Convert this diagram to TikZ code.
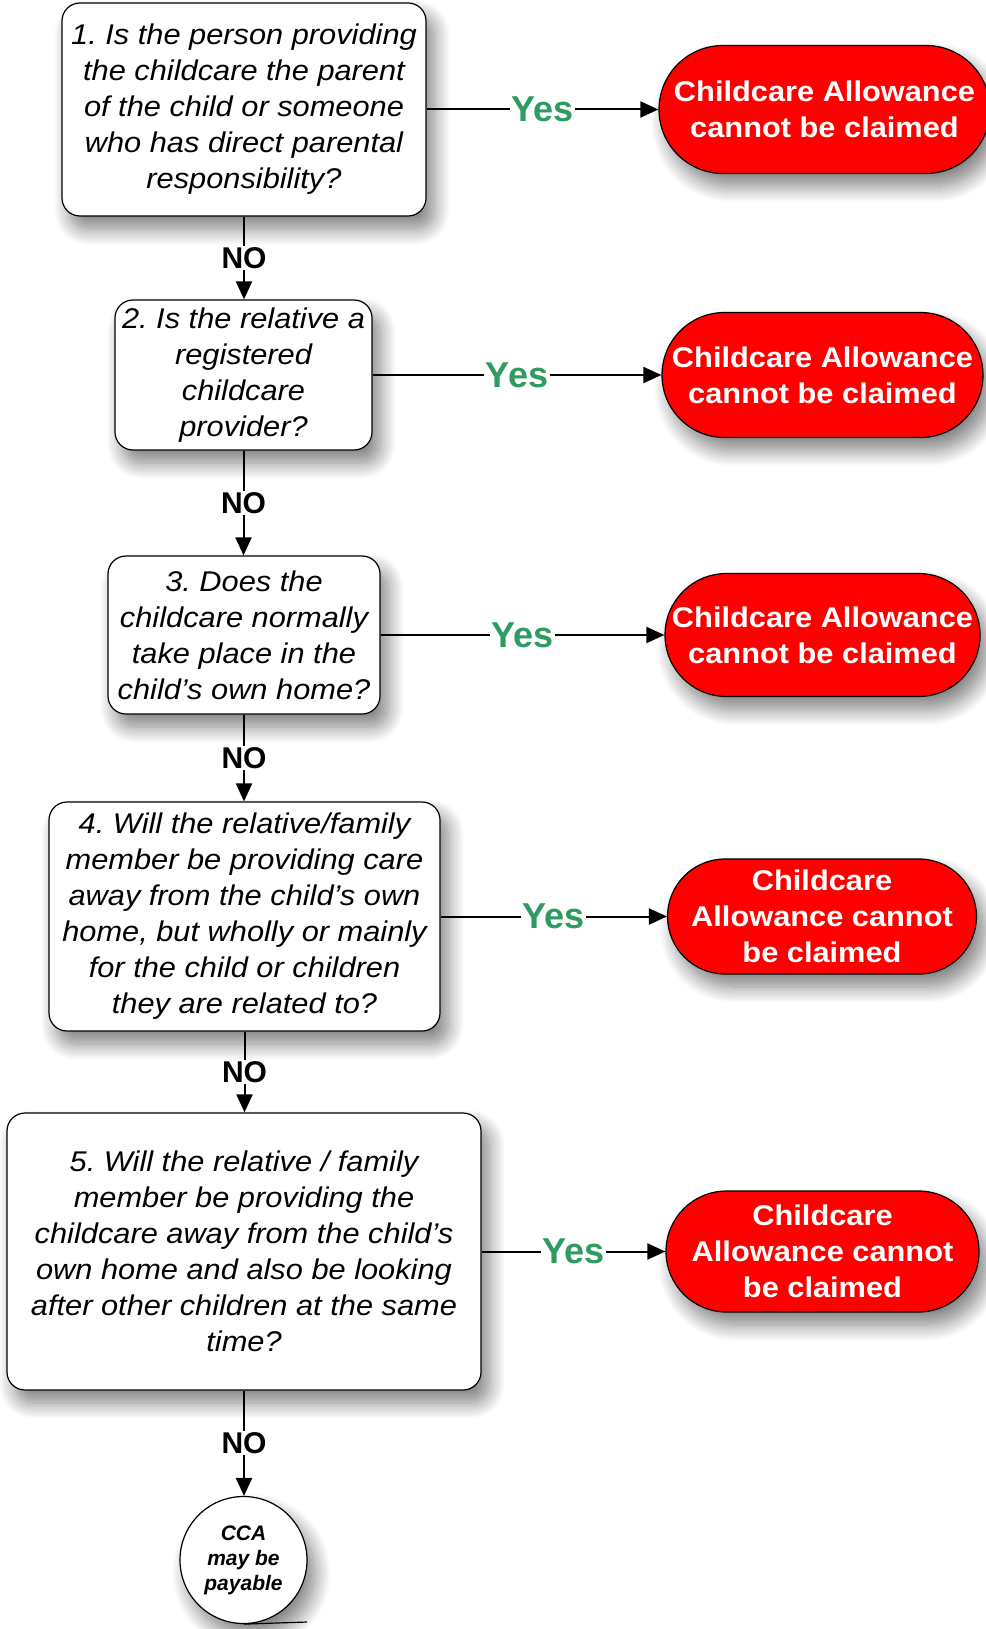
\documentclass[tikz,border=0pt]{standalone}
\usepackage{fontspec}
\setmainfont{Liberation Sans}
\newfontfamily\qfont[FakeStretch=1.08]{Liberation Sans}
\usetikzlibrary{arrows.meta,shapes.misc,shapes.geometric,shadows.blur}
\definecolor{yesgreen}{RGB}{46,155,95}
\definecolor{stopred}{RGB}{255,0,0}
\frenchspacing
\begin{document}
\begin{tikzpicture}[x=1pt,y=-1pt,
  shad/.style={blur shadow={shadow xshift=8pt,shadow yshift=-13pt,shadow blur radius=16pt,shadow blur steps=16,shadow opacity=50}},
  qbox/.style={shad,draw=black,line width=1.2pt,fill=white,rounded corners=18pt,inner sep=0pt,align=center,
    font=\qfont\itshape\fontsize{28.5}{36}\selectfont},
  stopbox/.style={shad,rounded rectangle,draw=black,line width=1.2pt,fill=stopred,inner sep=0pt,align=center,text=white,
    font=\qfont\bfseries\fontsize{28.5}{36}\selectfont},
  endcirc/.style={shad,circle,draw=black,line width=1.2pt,fill=white,inner sep=0pt,minimum size=127pt,align=center,
    font=\bfseries\itshape\fontsize{21}{25}\selectfont},
  arr/.style={line width=2pt,-{Triangle[length=18pt,width=16pt]}},
  nolab/.style={fill=white,inner sep=1.5pt,font=\bfseries\fontsize{30}{32}\selectfont},
  yeslab/.style={fill=white,inner sep=1.5pt,text=yesgreen,font=\bfseries\fontsize{36}{38}\selectfont}]
\useasboundingbox (0,0) rectangle (985,1629);

\node[qbox,minimum width=364pt,minimum height=213pt] (b1) at (244,109.5)
  {1. Is the person providing\\the childcare the parent\\of the child or someone\\who has direct parental\\responsibility?};
\node[qbox,minimum width=257pt,minimum height=150pt] (b2) at (243.5,375)
  {2. Is the relative a\\registered\\childcare\\provider?};
\node[qbox,minimum width=272pt,minimum height=158pt] (b3) at (244,635)
  {3. Does the\\childcare normally\\take place in the\\child’s own home?};
\node[qbox,minimum width=391pt,minimum height=229pt] (b4) at (244.5,916.5)
  {4. Will the relative/family\\member be providing care\\away from the child’s own\\home, but wholly or mainly\\for the child or children\\they are related to?};
\node[qbox,minimum width=474pt,minimum height=277pt] (b5) at (244,1251.5)
  {5. Will the relative / family\\member be providing the\\childcare away from the child’s\\own home and also be looking\\after other children at the same\\time?};
\node[endcirc] (c) at (243.5,1560) {CCA\\may be\\payable};

\node[stopbox,minimum width=331pt,minimum height=128pt] (r1) at (824.5,109.5) {Childcare Allowance\\cannot be claimed};
\node[stopbox,minimum width=321pt,minimum height=125pt] (r2) at (822.5,375) {Childcare Allowance\\cannot be claimed};
\node[stopbox,minimum width=315pt,minimum height=123pt] (r3) at (822.5,635) {Childcare Allowance\\cannot be claimed};
\node[stopbox,minimum width=292pt,minimum height=115pt] (r4) at (822,916.5) {Childcare\\Allowance cannot\\be claimed};
\node[stopbox,minimum width=313pt,minimum height=121pt] (r5) at (822.5,1251.5) {Childcare\\Allowance cannot\\be claimed};

\draw[arr] (b1.east) -- node[yeslab]{Yes} (b1.east -| r1.west);
\draw[arr] (b2.east) -- node[yeslab]{Yes} (b2.east -| r2.west);
\draw[arr] (b3.east) -- node[yeslab]{Yes} (b3.east -| r3.west);
\draw[arr] (b4.east) -- node[yeslab]{Yes} (b4.east -| r4.west);
\draw[arr] (b5.east) -- node[yeslab]{Yes} (b5.east -| r5.west);

\draw[arr] (b1.south) -- node[nolab]{NO} (b1.south |- b2.north);
\draw[arr] (b2.south) -- node[nolab]{NO} (b2.south |- b3.north);
\draw[arr] (b3.south) -- node[nolab]{NO} (b3.south |- b4.north);
\draw[arr] (b4.south) -- node[nolab]{NO} (b4.south |- b5.north);
\draw[arr] (b5.south) -- node[nolab]{NO} (b5.south |- c.north);

\coordinate (tail) at (307,1622);
\draw[line width=1.2pt] (c.south) -- (tail);
\end{tikzpicture}
\end{document}
